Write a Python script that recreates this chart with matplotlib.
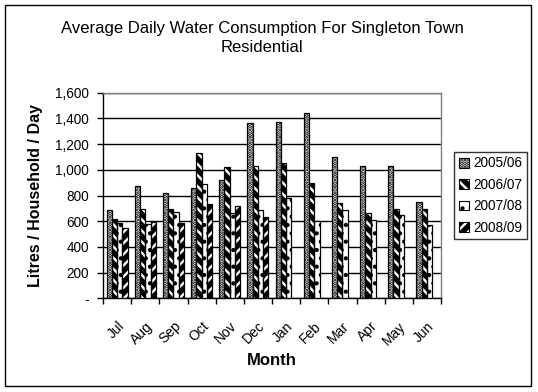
import numpy as np
import matplotlib
matplotlib.use("Agg")
import matplotlib.pyplot as plt
from matplotlib.patches import Patch, Rectangle
from matplotlib.legend_handler import HandlerTuple
from matplotlib.ticker import FuncFormatter

months = ["Jul", "Aug", "Sep", "Oct", "Nov", "Dec", "Jan", "Feb", "Mar", "Apr", "May", "Jun"]
series_names = ["2005/06", "2006/07", "2007/08", "2008/09"]
v2005 = [687, 874, 817, 856, 921, 1364, 1371, 1441, 1100, 1030, 1030, 749]
v2006 = [617, 692, 695, 1133, 1022, 1030, 1053, 897, 739, 666, 692, 692]
v2007 = [584, 578, 672, 887, 661, 687, 780, 601, 687, 609, 648, 570]
v2008 = [547, 594, 584, 731, 718, 635, np.nan, np.nan, np.nan, np.nan, np.nan, np.nan]
series = [v2005, v2006, v2007, v2008]

plt.rcParams['font.family'] = ['Liberation Sans', 'DejaVu Sans']
plt.rcParams['hatch.linewidth'] = 1.8

W, H = 538, 392
fig = plt.figure(figsize=(W / 100, H / 100), dpi=100)
ax = fig.add_axes([103 / W, 1 - 298.3 / H, (441 - 103) / W, (298.3 - 92.7) / H])

styles = [
    dict(face="white", hcol="black", hatch="....."),
    dict(face="black", hcol="white", hatch="\\\\\\"),
    dict(face="white", hcol="black", hatch=".."),
    dict(face="black", hcol="white", hatch="///"),
]

x = np.arange(len(months))
bw = 0.1875
handles = []
for i, (vals, st) in enumerate(zip(series, styles)):
    pos = x + (i - 1.5) * bw
    v = np.array(vals, dtype=float)
    m = ~np.isnan(v)
    ax.bar(pos[m], v[m], bw, facecolor=st["face"], edgecolor=st["hcol"],
           hatch=st["hatch"], linewidth=0, zorder=3)
    ax.bar(pos[m], v[m], bw, fill=False, edgecolor="black", linewidth=0.9, zorder=4)
    h1 = Patch(facecolor=st["face"], edgecolor=st["hcol"], hatch=st["hatch"], linewidth=0)
    h2 = Patch(fill=False, edgecolor="black", linewidth=0.8)
    handles.append((h1, h2))

ax.set_xlim(-0.5, len(months) - 0.5)
ax.set_ylim(0, 1600)
ax.set_yticks(np.arange(0, 1601, 200))
ax.yaxis.set_major_formatter(FuncFormatter(lambda v, p: "-" if v == 0 else f"{int(v):,}"))
ax.yaxis.grid(True, color="black", linewidth=1.0, zorder=0)
ax.set_axisbelow(True)

ax.set_xticks(np.arange(-0.5, len(months)))
ax.set_xticklabels([])
ax.set_xticks(x, minor=True)
ax.set_xticklabels(months, minor=True, rotation=45, ha="right", va="top",
                   rotation_mode="anchor", fontsize=10)
ax.tick_params(axis="x", which="minor", length=0, pad=15)
ax.tick_params(axis="x", which="major", length=4, width=1, direction="out")
ax.tick_params(axis="y", length=4, width=1, direction="out", labelsize=9.8, pad=6)

for s in ["top", "right"]:
    ax.spines[s].set_color("#808080")
    ax.spines[s].set_linewidth(1)
for s in ["left", "bottom"]:
    ax.spines[s].set_color("black")
    ax.spines[s].set_linewidth(1)

ax.set_xlabel("Month", fontsize=12, fontweight="bold", labelpad=4)
ax.set_ylabel("Litres / Household / Day", fontsize=11.5, fontweight="bold", labelpad=9)

fig.text(262 / W, 1 - 28 / H, "Average Daily Water Consumption For Singleton Town",
         ha="center", va="center", fontsize=12)
fig.text(262 / W, 1 - 48 / H, "Residential", ha="center", va="center", fontsize=12)

leg = fig.legend(handles, series_names, handler_map={tuple: HandlerTuple(ndivide=1)},
                 loc="center", bbox_to_anchor=(490.5 / W, 1 - 195.5 / H),
                 frameon=True, fancybox=False, edgecolor="black", fontsize=9.8,
                 handlelength=0.75, handleheight=0.75, handletextpad=0.3,
                 labelspacing=0.55, borderpad=0.35, borderaxespad=0)
leg.get_frame().set_linewidth(1)

fig.patches.append(Rectangle((5 / W, 1 - 385.5 / H), (531 - 5) / W, (385.5 - 5) / H,
                             transform=fig.transFigure, fill=False,
                             edgecolor="black", linewidth=1))

fig.savefig("out.png", dpi=100)
